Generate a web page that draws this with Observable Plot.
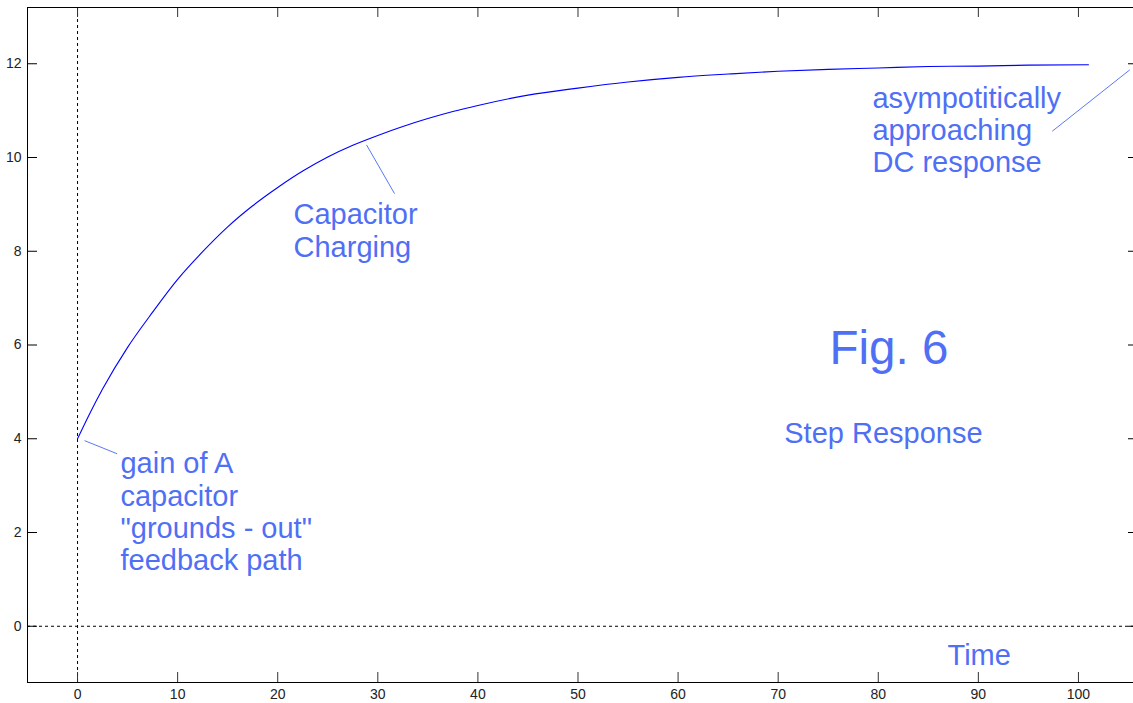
<!DOCTYPE html>
<html>
<head>
<meta charset="utf-8">
<script src="https://cdn.jsdelivr.net/npm/d3@7"></script>
<script src="https://cdn.jsdelivr.net/npm/@observablehq/plot@0.6"></script>
<style>
  html, body { margin: 0; padding: 0; background: #fff; overflow: hidden; }
  #chart svg { display: block; max-width: none !important; }
</style>
</head>
<body>
<div id="chart"></div>
<script>
// Step response of the amplifier: output vs. time
const time   = [0, 1.25, 2.5, 5, 7.5, 10, 12.5, 15, 17.5, 20, 22.5, 25, 27.5, 30, 32.5, 35, 37.5, 40, 45, 50, 55, 60, 65, 70, 75, 80, 85, 90, 95, 101];
const output = [4.0, 4.55, 5.06, 5.95, 6.7, 7.4, 7.99, 8.52, 8.97, 9.36, 9.71, 10.01, 10.26, 10.47, 10.66, 10.83, 10.98, 11.11, 11.33, 11.48, 11.61, 11.71, 11.78, 11.84, 11.88, 11.91, 11.94, 11.95, 11.97, 11.98];

const xTicks = [0, 10, 20, 30, 40, 50, 60, 70, 80, 90, 100];
const yTicks = [0, 2, 4, 6, 8, 10, 12];

// Annotation texts and their leader lines
const notes = [
  {text: "gain of A\ncapacitor\n\"grounds - out\"\nfeedback path", x: 4.29, y: 2.45, size: 29},
  {text: "Capacitor\nCharging", x: 21.58, y: 8.45, size: 29},
  {text: "asympotitically\napproaching\nDC response", x: 79.42, y: 10.59, size: 29},
  {text: "Fig. 6", x: 75.13, y: 5.96, size: 47.5},
  {text: "Step Response", x: 70.61, y: 4.14, size: 29},
  {text: "Time", x: 86.92, y: -0.61, size: 29}
];
const leaders = [
  {x1: 0.7, y1: 3.96, x2: 3.96, y2: 3.68},
  {x1: 28.87, y1: 10.27, x2: 31.67, y2: 9.23},
  {x1: 105.13, y1: 11.87, x2: 97.38, y2: 10.56}
];

const W = 1140, H = 703;
const mL = 27, mR = 2, mT = 7, mB = 21;
const xDom = [-5, 106];
const yDom = [-1.2, 13.2];
// inward tick length of 10px, expressed in data units
const xLen = 10 * (xDom[1] - xDom[0]) / (W - mL - mR);
const yLen = 10 * (yDom[1] - yDom[0]) / (H - mT - mB);

const curve = time.map((t, i) => ({t, v: output[i]}));
const textColor = "#4f6ff5";
const font = "'Liberation Sans', Arial, Helvetica, sans-serif";
const tickFont = "'Liberation Sans Narrow', 'Arial Narrow', 'Liberation Sans', Arial, sans-serif";

const chart = Plot.plot({
  width: W,
  height: H,
  marginLeft: mL,
  marginRight: mR,
  marginTop: mT,
  marginBottom: mB,
  style: {background: "#fff", overflow: "visible", maxWidth: "none"},
  x: {domain: xDom},
  y: {domain: yDom},
  marks: [
    // reference lines through the origin
    Plot.ruleX([0], {stroke: "#000", strokeWidth: 1, strokeDasharray: "3,3"}),
    Plot.ruleY([0], {stroke: "#000", strokeWidth: 1, strokeDasharray: "3,3"}),
    // inward ticks on all four sides
    Plot.ruleX(xTicks, {x: d => d, y1: yDom[0], y2: yDom[0] + yLen, stroke: "#333"}),
    Plot.ruleX(xTicks, {x: d => d, y1: yDom[1] - yLen, y2: yDom[1], stroke: "#333"}),
    Plot.ruleY(yTicks, {y: d => d, x1: xDom[0], x2: xDom[0] + xLen, stroke: "#000"}),
    Plot.ruleY(yTicks, {y: d => d, x1: xDom[1] - xLen, x2: xDom[1], stroke: "#000"}),
    Plot.axisX(xTicks, {tickSize: 0, tickPadding: 7, fontSize: 14, fontFamily: tickFont, fill: "#222", label: null}),
    Plot.axisY(yTicks, {tickSize: 0, tickPadding: 6, fontSize: 14, fontFamily: tickFont, fill: "#222", label: null}),
    Plot.frame({stroke: "#000", strokeWidth: 1}),
    // the response curve
    Plot.line(curve, {x: "t", y: "v", stroke: "#0000ff", strokeWidth: 1.1, curve: "monotone-x"}),
    // leader lines
    Plot.link(leaders, {x1: "x1", y1: "y1", x2: "x2", y2: "y2", stroke: "#5a78f5", strokeWidth: 1}),
    // annotation text
    Plot.text(notes, {
      x: "x", y: "y", text: "text", fontSize: d => d.size,
      textAnchor: "start", lineAnchor: "middle", lineHeight: 1.11,
      fill: textColor, fontFamily: font
    })
  ]
});

document.getElementById("chart").append(chart);
</script>
</body>
</html>
